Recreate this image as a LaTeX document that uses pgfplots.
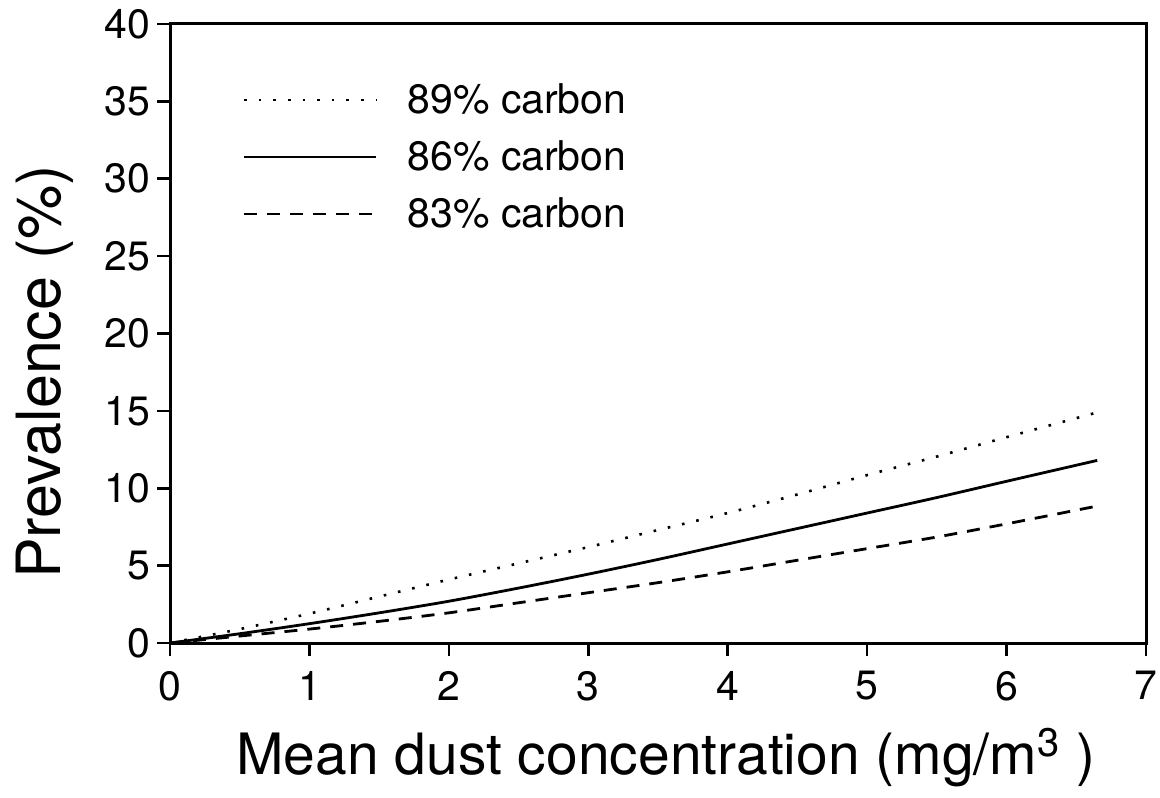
\documentclass[border=0pt]{standalone}
\usepackage{pgfplots}
\pgfplotsset{compat=1.18}
\usepackage{fontspec}
\setmainfont{TeX Gyre Heros}
\begin{document}
\begin{tikzpicture}
\begin{axis}[
  scale only axis,
  width=488pt, height=309.5pt,
  xmin=0, xmax=7, ymin=0, ymax=40,
  xtick={0,1,...,7}, ytick={0,5,...,40},
  tick align=outside, tick pos=left,
  major tick length=6.5pt,
  axis line style={line width=1.5pt},
  every tick/.style={line width=1.3pt, black},
  /pgf/number format/assume math mode=true,
  tick label style={font=\fontsize{20.5}{24}\selectfont},
  xticklabel style={yshift=-4pt},
  yticklabel style={xshift=0pt},
  xlabel={Mean dust concentration (mg/m\textsuperscript{3}\ )},
  ylabel={Prevalence (\%)},
  xlabel style={font=\fontsize{28.5}{32}\selectfont, at={(axis description cs:0.508,-0.185)}, anchor=center},
  ylabel style={font=\fontsize{30.5}{34}\selectfont, at={(axis description cs:-0.128,0.438)}, anchor=center, rotate=0},
  legend style={draw=none, fill=none, font=\fontsize{20.5}{24}\selectfont,
     at={(axis description cs:0.068,0.785)}, anchor=west, row sep=8pt,
     /tikz/every odd column/.style={column sep=13pt}},
  legend cell align=left,
  legend image code/.code={\draw[#1] (0pt,0pt) -- (66pt,0pt);},
]
\addplot[black, smooth, line width=1.3pt, dash pattern=on 1.3pt off 6pt] coordinates {
(0,0) (0.5,0.9) (1,1.9) (1.5,3.0) (2,4.1) (2.5,5.15) (3,6.2) (3.5,7.3) (4,8.4) (4.5,9.6) (5,10.85) (5.5,12.05) (6,13.3) (6.65,14.9)};
\addlegendentry{89\% carbon}
\addplot[black, smooth, line width=1.4pt] coordinates {
(0,0) (0.5,0.6) (1,1.25) (1.5,1.95) (2,2.7) (2.5,3.55) (3,4.45) (3.5,5.4) (4,6.4) (4.5,7.4) (5,8.4) (5.5,9.4) (6,10.45) (6.65,11.8)};
\addlegendentry{86\% carbon}
\addplot[black, smooth, line width=1.4pt, dash pattern=on 6.5pt off 5pt] coordinates {
(0,0) (0.5,0.45) (1,0.9) (1.5,1.4) (2,1.95) (2.5,2.6) (3,3.25) (3.5,3.9) (4,4.6) (4.5,5.35) (5,6.1) (5.5,6.85) (6,7.7) (6.65,8.85)};
\addlegendentry{83\% carbon}
\end{axis}
\pgfresetboundingbox
\path (current axis.south west) ++(-85pt,-77pt) rectangle ([xshift=7pt,yshift=12pt]current axis.north east);
\end{tikzpicture}
\end{document}
